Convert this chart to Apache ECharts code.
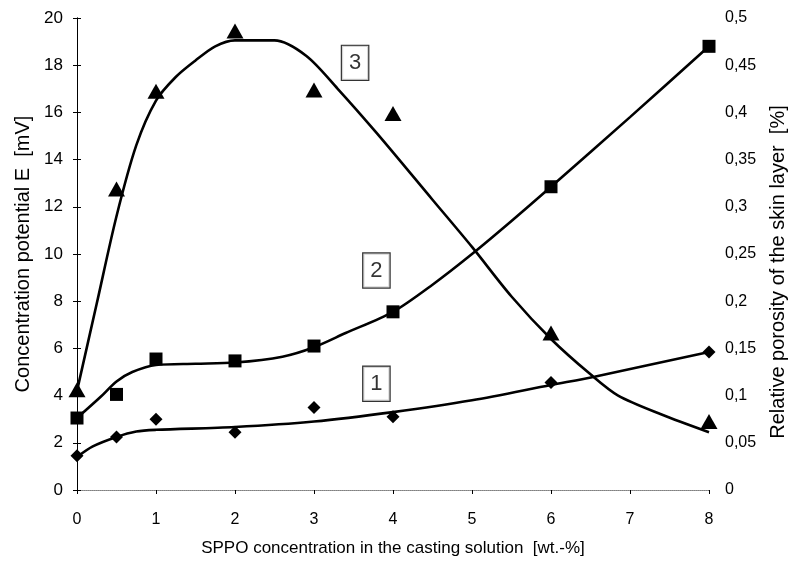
<!DOCTYPE html>
<html><head><meta charset="utf-8">
<script src="https://cdn.jsdelivr.net/npm/echarts@6/dist/echarts.min.js"></script>
<style>html,body{margin:0;padding:0;background:#fff}#c{width:796px;height:563px}</style>
</head><body><div id="c"></div>
<script>
// measured points (x = SPPO wt.-%, y = potential mV)
const xPoints = [0, 0.5, 1, 2, 3, 4, 6, 8];
const s1Points = [1.45, 2.25, 3.0, 2.45, 3.5, 3.1, 4.55, 5.85];
const s2Points = [3.05, 4.05, 5.55, 5.47, 6.1, 7.55, 12.85, 18.8];
const s3Points = [4.25, 12.75, 16.9, 19.45, 16.95, 15.95, 6.65, 2.9];
// fitted curves
const curve1X = [0, 0.2, 0.5, 0.75, 1, 2, 3, 4, 5, 6, 6.55, 8];
const curve1Y = [1.4, 1.85, 2.25, 2.48, 2.55, 2.67, 2.9, 3.3, 3.8, 4.45, 4.8, 5.85];
const curve2X = [0, 0.3, 0.5, 0.7, 1, 1.5, 2, 2.6, 3, 3.4, 4, 4.5, 5, 5.5, 6, 7, 8];
const curve2Y = [3.05, 3.95, 4.6, 5.0, 5.3, 5.35, 5.4, 5.65, 6.05, 6.65, 7.55, 8.7, 10.0, 11.4, 12.85, 15.8, 18.8];
const curve3X = [0, 0.25, 0.5, 0.75, 1, 1.25, 1.5, 1.75, 2, 2.5, 2.9, 3.3, 3.8, 4.5, 5, 5.5, 6, 6.5, 6.85, 7.4, 8];
const curve3Y = [4.2, 7.9, 11.6, 14.6, 16.5, 17.5, 18.2, 18.8, 19.05, 19.05, 18.4, 17.0, 15.1, 12.3, 10.3, 8.2, 6.4, 4.9, 4.0, 3.2, 2.45];
// curve labels
const curveLabels = ['1', '2', '3'];
const labelX = [3.79, 3.79, 3.52];
const labelY = [4.5, 9.3, 18.1];

const zip = (a, b) => a.map((v, i) => [v, b[i]]);
const font = 'Liberation Sans, Arial, sans-serif';
const chart = echarts.init(document.getElementById('c'));
const lineS = (x, y) => ({type: 'line', data: zip(x, y), smooth: 0.3, symbol: 'none',
  lineStyle: {color: '#000', width: 2.6}, z: 3, animation: false});
const ptS = (y, sym, size) => ({type: 'scatter', data: zip(xPoints, y), symbol: sym, symbolSize: size,
  itemStyle: {color: '#000', opacity: 1}, z: 4, animation: false});
chart.setOption({
  animation: false,
  grid: {left: 77, right: 79, top: 18, bottom: 73},
  xAxis: [{
    type: 'value', min: 0, max: 8, interval: 1,
    name: 'SPPO concentration in the casting solution  [wt.-%]', nameLocation: 'middle', nameGap: 50,
    nameTextStyle: {fontFamily: font, fontSize: 17, color: '#000'},
    axisLine: {lineStyle: {color: '#555', width: 1}},
    axisTick: {show: true, length: 4, lineStyle: {color: '#000'}},
    axisLabel: {fontFamily: font, fontSize: 16, color: '#000', margin: 22},
    splitLine: {show: false}
  }, {
    type: 'value', min: 0, max: 8, position: 'top',
    axisLine: {show: true, lineStyle: {color: '#999', type: 'dotted', width: 1}},
    axisTick: {show: false}, axisLabel: {show: false}, splitLine: {show: false}
  }],
  yAxis: [{
    type: 'value', min: 0, max: 20, interval: 2, position: 'left',
    name: 'Concentration potential E  [mV]', nameLocation: 'middle', nameGap: 43, nameRotate: 90,
    nameTextStyle: {fontFamily: font, fontSize: 20, color: '#000'},
    axisLine: {show: true, lineStyle: {color: '#000', width: 1}},
    axisTick: {show: true, length: 4, lineStyle: {color: '#000'}},
    axisLabel: {fontFamily: font, fontSize: 17, color: '#000', margin: 14},
    splitLine: {show: false}
  }, {
    type: 'value', min: 0, max: 0.5, interval: 0.05, position: 'right',
    name: 'Relative porosity of the skin layer  [%]', nameLocation: 'middle', nameGap: 59, nameRotate: 90,
    nameTextStyle: {fontFamily: font, fontSize: 20, color: '#000', padding: [0, 36, 0, 0]},
    axisLine: {show: true, lineStyle: {color: '#000', width: 1}},
    axisTick: {show: true, length: 4, lineStyle: {color: '#000'}},
    axisLabel: {fontFamily: font, fontSize: 16, color: '#000', margin: 16,
      formatter: v => String(+v.toFixed(2)).replace('.', ',')},
    splitLine: {show: false}
  }],
  series: [
    lineS(curve1X, curve1Y), lineS(curve2X, curve2Y), lineS(curve3X, curve3Y),
    ptS(s1Points, 'diamond', [13, 13]), ptS(s2Points, 'rect', 13), ptS(s3Points, 'triangle', [17, 15]),
    {type: 'scatter', data: labelX.map((x, i) => ({value: [x, labelY[i]], name: curveLabels[i]})),
      symbol: 'rect', symbolSize: 1, itemStyle: {color: 'transparent'}, z: 5,
      label: {show: true, position: 'inside', formatter: p => p.name, fontFamily: font, fontSize: 22,
        color: '#000', backgroundColor: '#fff', borderColor: '#000', borderWidth: 1.2,
        padding: [7, 7, 5, 7]}}
  ]
});
</script></body></html>
